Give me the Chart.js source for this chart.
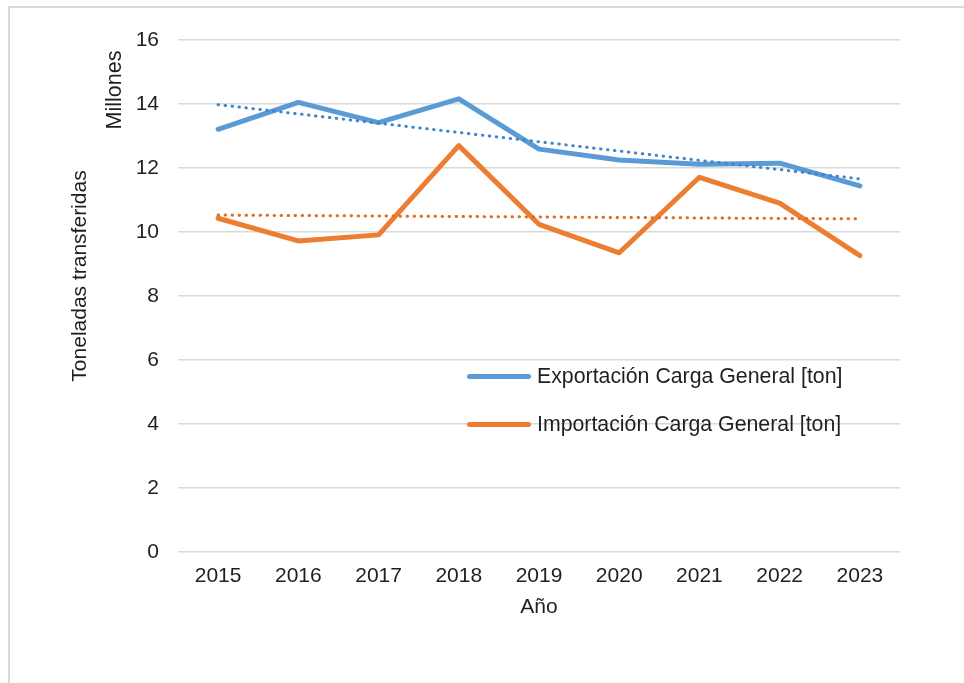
<!DOCTYPE html>
<html>
<head>
<meta charset="utf-8">
<script src="https://cdn.jsdelivr.net/npm/chart.js@4.4.0/dist/chart.umd.min.js"></script>
<style>
    html, body { margin: 0; padding: 0; background: #ffffff; overflow: hidden; }
    #frame {
        position: absolute; left: 8px; top: 6px; width: 1000px; height: 740px;
        border: 2px solid #d9d9d9; box-sizing: border-box;
    }
    #wrap { position: absolute; left: 0; top: 0; width: 964px; height: 683px; }
    #legend {
        position: absolute; left: 467px; top: 362px;
        font-family: "Liberation Sans", Arial, sans-serif; font-size: 21.3px; color: #1f1f1f;
    }
    .item { display: flex; align-items: center; height: 28px; margin-bottom: 20px; }
    .swatch { width: 64px; height: 5px; border-radius: 3px; margin-right: 6px; }
</style>
</head>
<body>
<div id="frame"></div>
<div id="wrap">
    <canvas id="chart" width="964" height="683"></canvas>
    <div id="legend"></div>
</div>
<script>
// Datos (millones de toneladas)
const years = ['2015', '2016', '2017', '2018', '2019', '2020', '2021', '2022', '2023'];
const exportacion = [13.21, 14.05, 13.42, 14.16, 12.59, 12.25, 12.12, 12.15, 11.44];
const importacion = [10.43, 9.72, 9.91, 12.70, 10.24, 9.35, 11.71, 10.90, 9.26];
// Lineas de tendencia: solo los extremos, unidos con spanGaps
const tendExportacion = [13.98, null, null, null, null, null, null, null, 11.66];
const tendImportacion = [10.53, null, null, null, null, null, null, null, 10.41];
const yTicks = [0, 2, 4, 6, 8, 10, 12, 14, 16];

const FONT = '"Liberation Sans", Arial, sans-serif';
const TEXT = '#1f1f1f';
const BLUE = '#5b9bd5';
const ORANGE = '#ed7d31';

// Titulos de ejes dibujados a mano (dos titulos en el eje Y)
const axisTitles = {
    id: 'axisTitles',
    afterDraw(chart) {
        const ctx = chart.ctx;
        const area = chart.chartArea;
        ctx.save();
        ctx.fillStyle = TEXT;
        ctx.font = '21px ' + FONT;
        ctx.textAlign = 'center';
        ctx.textBaseline = 'middle';
        ctx.fillText('Año', (area.left + area.right) / 2, 607);

        ctx.translate(80, 276);
        ctx.rotate(-Math.PI / 2);
        ctx.fillText('Toneladas transferidas', 0, 0);
        ctx.restore();

        ctx.save();
        ctx.fillStyle = TEXT;
        ctx.font = '21.5px ' + FONT;
        ctx.textAlign = 'center';
        ctx.textBaseline = 'middle';
        ctx.translate(115, 90);
        ctx.rotate(-Math.PI / 2);
        ctx.fillText('Millones', 0, 0);
        ctx.restore();
    }
};

const chart = new Chart(document.getElementById('chart'), {
    type: 'line',
    data: {
        labels: years,
        datasets: [
            {
                label: 'Exportación Carga General [ton]',
                data: exportacion,
                borderColor: BLUE,
                borderWidth: 5,
                order: 3
            },
            {
                label: 'Importación Carga General [ton]',
                data: importacion,
                borderColor: ORANGE,
                borderWidth: 5,
                order: 4
            },
            {
                label: 'tendencia exportacion',
                data: tendExportacion,
                borderColor: '#3f86cc',
                borderWidth: 3,
                borderDash: [0.5, 6.5],
                spanGaps: true,
                order: 1
            },
            {
                label: 'tendencia importacion',
                data: tendImportacion,
                borderColor: '#df6e24',
                borderWidth: 3,
                borderDash: [0.5, 6.5],
                spanGaps: true,
                order: 2
            }
        ]
    },
    options: {
        responsive: false,
        animation: false,
        layout: { padding: { top: 40, right: 64, left: 0, bottom: 0 } },
        elements: {
            line: { tension: 0, borderCapStyle: 'round', borderJoinStyle: 'round', fill: false },
            point: { radius: 0, hoverRadius: 0 }
        },
        plugins: {
            legend: { display: false },
            tooltip: { enabled: false }
        },
        scales: {
            x: {
                offset: true,
                grid: { display: false, drawTicks: false },
                border: { display: false },
                ticks: { color: TEXT, font: { family: FONT, size: 21 }, padding: 12, maxRotation: 0 },
                afterFit(scale) { scale.height = 131; }
            },
            y: {
                min: 0,
                max: 16,
                afterBuildTicks(scale) { scale.ticks = yTicks.map(v => ({ value: v })); },
                grid: { color: '#d9d9d9', lineWidth: 1.5, drawTicks: false },
                border: { display: false },
                ticks: { color: TEXT, font: { family: FONT, size: 21 }, padding: 19 },
                afterFit(scale) { scale.width = 178; }
            }
        }
    },
    plugins: [axisTitles]
});

// Leyenda HTML dentro del area del grafico
const legend = document.getElementById('legend');
chart.data.datasets.slice(0, 2).forEach(ds => {
    const item = document.createElement('div');
    item.className = 'item';
    const sw = document.createElement('span');
    sw.className = 'swatch';
    sw.style.background = ds.borderColor;
    const txt = document.createElement('span');
    txt.textContent = ds.label;
    item.appendChild(sw);
    item.appendChild(txt);
    legend.appendChild(item);
});
</script>
</body>
</html>
